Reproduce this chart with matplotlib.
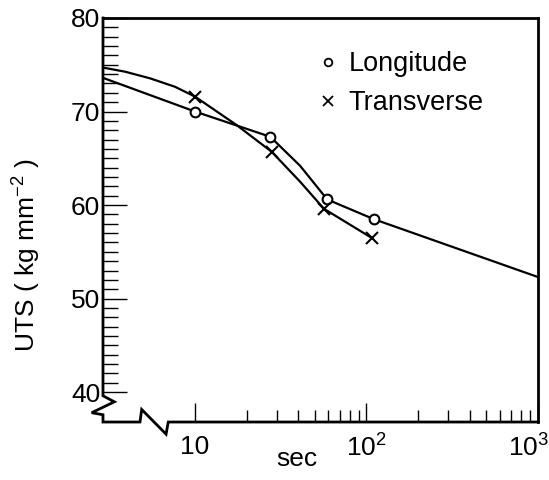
import numpy as np
import matplotlib
matplotlib.use("Agg")
import matplotlib.pyplot as plt
import matplotlib.transforms as mtransforms
from matplotlib.lines import Line2D

plt.rcParams["font.family"] = ["Liberation Sans", "DejaVu Sans"]
plt.rcParams["mathtext.fontset"] = "custom"
plt.rcParams["mathtext.rm"] = "Liberation Sans"
plt.rcParams["mathtext.default"] = "regular"

# ── Data ──────────────────────────────────────────────────────────────
# measured points
long_x = [10, 27.5, 59, 110]
long_y = [70.0, 67.3, 60.6, 58.5]
trans_x = [10, 28, 56.5, 107]
trans_y = [71.6, 65.7, 59.6, 56.5]

# hand-drawn fitted curves (traced)
long_curve_x = [2.91, 10, 27.5, 41, 59, 110, 1000]
long_curve_y = [73.6, 70.0, 67.3, 64.2, 60.6, 58.5, 52.3]
trans_curve_x = [2.91, 3.91, 5.47, 7.64, 10, 17.5, 28, 41, 56.5, 107]
trans_curve_y = [74.7, 74.26, 73.55, 72.65, 71.6, 68.55, 65.7, 62.5, 59.6, 56.5]

x_major = [10, 100, 1000]
x_major_labels = ["10", "$10^2$", "$10^3$"]
x_minor = [20, 30, 40, 50, 60, 70, 80, 90, 200, 300, 400, 500, 600, 700, 800, 900]
y_major = [40, 50, 60, 70, 80]
y_minor = np.arange(41, 80, 1)

fig = plt.figure(figsize=(5.49, 4.80), dpi=100)
ax = fig.add_axes([0.1876, 0.1208, 0.7924, 0.8417])
ax.set_xscale("log")
ax.set_xlim(2.91, 1000)
ax.set_ylim(36.8, 80)

ax.plot(long_curve_x, long_curve_y, color="black", lw=1.6, zorder=2)
ax.plot(trans_curve_x, trans_curve_y, color="black", lw=1.6, zorder=2)
ax.plot(long_x, long_y, ls="none", marker="o", ms=7, mfc="white", mec="black",
        mew=1.5, zorder=3)
ax.plot(trans_x, trans_y, ls="none", marker="x", ms=8, mec="black", mew=1.5, zorder=3)

# ticks
ax.set_xticks(x_major, x_major_labels)
ax.set_xticks(x_minor, minor=True)
ax.set_xticklabels([], minor=True)
ax.set_yticks(y_major)
ax.set_yticks(y_minor, minor=True)
ax.tick_params(axis="x", which="major", direction="in", length=14, width=1.0,
               labelsize=19, pad=9)
ax.tick_params(axis="x", which="minor", direction="in", length=8.5, width=1.0)
ax.tick_params(axis="y", which="major", direction="in", length=17, width=1.0,
               labelsize=19, pad=2)
ax.tick_params(axis="y", which="minor", direction="in", length=10.5, width=1.0)

# last label sits left of its tick, as in the original
last = ax.get_xticklabels()[-1]
last.set_transform(last.get_transform() +
                   mtransforms.ScaledTranslation(-9 / 100, 0, fig.dpi_scale_trans))

# frame with axis breaks drawn by hand
for side in ["top", "right"]:
    ax.spines[side].set_linewidth(2.0)
ax.spines["left"].set_visible(False)
ax.spines["bottom"].set_visible(False)
frame_x = [0, 0, 0.026, -0.026, 0, 0, 0.085, 0.089, 0.145, 0.150, 1.0]
frame_y = [1.0, 0.065, 0.05, 0.023, 0.018, 0, 0, 0.031, -0.030, 0, 0]
ax.plot(frame_x, frame_y, transform=ax.transAxes, color="black", lw=2.0,
        clip_on=False, solid_joinstyle="miter", zorder=4)

ax.set_ylabel("UTS ( kg mm$^{-2}$ )", fontsize=19)
ax.yaxis.set_label_coords(-0.138, 0.413)
ax.set_xlabel("sec", fontsize=19)
ax.xaxis.set_label_coords(0.446, -0.062)

handles = [
    Line2D([], [], ls="none", marker="o", ms=5.5, mfc="white", mec="black", mew=1.3),
    Line2D([], [], ls="none", marker="x", ms=6.5, mec="black", mew=1.3),
]
ax.legend(handles, ["Longitude", "Transverse"], loc="upper left",
          bbox_to_anchor=(0.499, 0.918), frameon=False, fontsize=19.5,
          borderpad=0, borderaxespad=0, handlelength=0.6, handletextpad=0.45,
          labelspacing=0.48)

fig.savefig("out.png", dpi=100)
